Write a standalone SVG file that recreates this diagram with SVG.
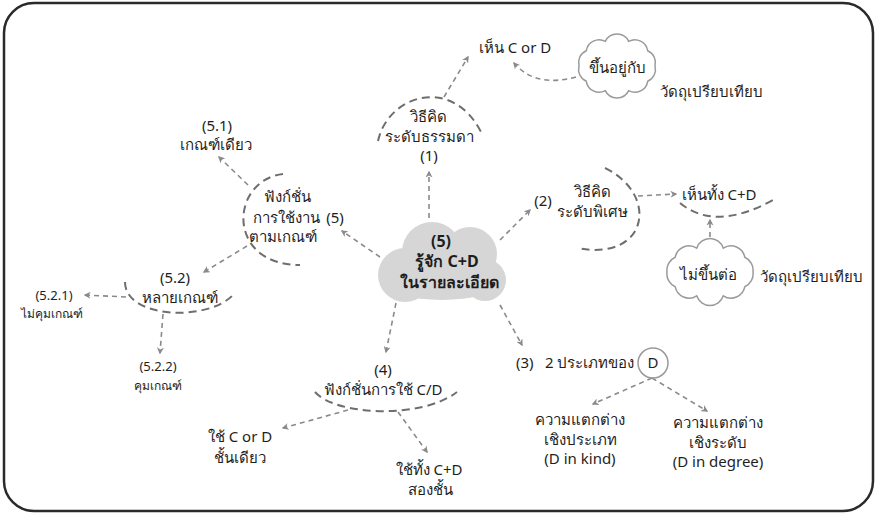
<svg xmlns="http://www.w3.org/2000/svg" width="878" height="515" viewBox="0 0 878 515">
  <defs>
    <marker id="arrow" viewBox="0 0 10 10" refX="8" refY="5" markerWidth="7" markerHeight="7" orient="auto" markerUnits="userSpaceOnUse">
      <path d="M0,0 L10,5 L0,10 L3,5 Z" fill="#8a8a8a"/>
    </marker>
    <style>
      text { font-family: "Noto Sans", "DejaVu Sans", Tahoma, sans-serif; fill: #1e1e1e; text-anchor: middle; font-size: 15px; }
      .sm { font-size: 13px; }
      .xs { font-size: 12px; }
      .bold { font-weight: bold; font-size: 16px; }
      .lft { text-anchor: start; }
      .link { fill: none; stroke: #8a8a8a; stroke-width: 1.6; stroke-dasharray: 5 4; marker-end: url(#arrow); }
      .arc { fill: none; stroke: #6e6e6e; stroke-width: 2; stroke-dasharray: 8 5; }
      .cloud { fill: #ffffff; stroke: #9a9a9a; stroke-width: 1.5; }
    </style>
  </defs>

  <!-- frame -->
  <rect x="4" y="3" width="869" height="508" rx="30" ry="30" fill="#ffffff" stroke="#2a2a2a" stroke-width="2.5"/>

  <!-- connectors -->
  <g id="connectors">
    <path class="link" d="M429,218 L429,172"/>
    <path class="link" d="M500,240 L530,210"/>
    <path class="link" d="M380,257 L342,231"/>
    <path class="link" d="M396,303 L386,352"/>
    <path class="link" d="M500,305 L522,345"/>
    <path class="link" d="M444,97 L468,57"/>
    <path class="link" d="M576,77 Q535,88 514,63"/>
    <path class="link" d="M638,196 L676,194"/>
    <path class="link" d="M710,246 L710,220"/>
    <path class="link" d="M248,185 L219,157"/>
    <path class="link" d="M247,246 L204,272"/>
    <path class="link" d="M126,297 L85,295"/>
    <path class="link" d="M163,314 L160,353"/>
    <path class="link" d="M348,410 L283,428"/>
    <path class="link" d="M398,412 L427,452"/>
    <path class="link" d="M652,378 L593,404"/>
    <path class="link" d="M652,378 L707,411"/>
  </g>

  <!-- central topic -->
  <g id="center">
    <g fill="#d6d6d6">
      <circle cx="405" cy="275" r="27"/>
      <circle cx="432" cy="252" r="30"/>
      <circle cx="470" cy="254" r="27"/>
      <circle cx="485" cy="280" r="21"/>
      <ellipse cx="442" cy="285" rx="55" ry="15"/>
    </g>
    <text class="bold" x="441" y="247">(5)</text>
    <text class="bold" x="447" y="267">รู้จัก C+D</text>
    <text class="bold" x="449" y="288">ในรายละเอียด</text>
  </g>

  <!-- (1) ordinary thinking -->
  <g id="node1">
    <path class="arc" d="M378,141 C388,95 452,75 481,132"/>
    <text x="428" y="122">วิธีคิด</text>
    <text x="429" y="142">ระดับธรรมดา</text>
    <text x="429" y="161">(1)</text>
  </g>

  <g id="see-c-or-d">
    <text x="515" y="53">เห็น C or D</text>
  </g>

  <g id="depends">
    <path class="cloud" d="M655,66 A13,13 0 0,1 647.7,81.3 A13,13 0 0,1 628.7,90.7 A13,13 0 0,1 605.3,90.7 A13,13 0 0,1 586.3,81.3 A13,13 0 0,1 579,66 A13,13 0 0,1 586.3,50.7 A13,13 0 0,1 605.3,41.3 A13,13 0 0,1 628.7,41.3 A13,13 0 0,1 647.7,50.7 A13,13 0 0,1 655,66 Z"/>
    <text x="617" y="73">ขึ้นอยู่กับ</text>
    <text class="lft" x="660" y="97">วัดถุเปรียบเทียบ</text>
  </g>

  <!-- (2) special thinking -->
  <g id="node2">
    <path class="arc" d="M605,168 C660,195 648,262 577,248"/>
    <text x="543" y="206">(2)</text>
    <text x="592" y="197">วิธีคิด</text>
    <text x="592" y="217">ระดับพิเศษ</text>
  </g>

  <g id="see-both">
    <path class="arc" d="M680,203 Q715,232 773,200"/>
    <text x="719" y="200">เห็นทั้ง C+D</text>
  </g>

  <g id="independent">
    <path class="cloud" d="M753,272 A14,14 0 0,1 744.8,286.7 A14,14 0 0,1 723.3,295.8 A14,14 0 0,1 696.7,295.8 A14,14 0 0,1 675.2,286.7 A14,14 0 0,1 667,272 A14,14 0 0,1 675.2,257.3 A14,14 0 0,1 696.7,248.2 A14,14 0 0,1 723.3,248.2 A14,14 0 0,1 744.8,257.3 A14,14 0 0,1 753,272 Z"/>
    <text x="708" y="280">ไม่ขึ้นต่อ</text>
    <text x="811" y="282">วัดถุเปรียบเทียบ</text>
  </g>

  <!-- (5) function by criteria -->
  <g id="node5">
    <path class="arc" d="M283,174 C230,180 225,265 300,265"/>
    <text x="287" y="202">ฟังก์ชั่น</text>
    <text x="286" y="223">การใช้งาน</text>
    <text x="335" y="223">(5)</text>
    <text x="283" y="242">ตามเกณฑ์</text>
  </g>

  <g id="node5-1">
    <text x="217" y="131">(5.1)</text>
    <text x="216" y="150">เกณฑ์เดียว</text>
  </g>

  <g id="node5-2">
    <path class="arc" d="M125,282 C125,318 205,322 232,296"/>
    <text x="175" y="283">(5.2)</text>
    <text x="180" y="303">หลายเกณฑ์</text>
  </g>

  <g id="node5-2-1">
    <text class="sm" x="54" y="300">(5.2.1)</text>
    <text class="xs" x="52" y="318">ไม่คุมเกณฑ์</text>
  </g>

  <g id="node5-2-2">
    <text class="sm" x="158" y="371">(5.2.2)</text>
    <text class="xs" x="158" y="390">คุมเกณฑ์</text>
  </g>

  <!-- (4) function of use -->
  <g id="node4">
    <path class="arc" d="M315,392 C335,415 420,420 457,392"/>
    <text x="383" y="375">(4)</text>
    <text x="383" y="395">ฟังก์ชั่นการใช้ C/D</text>
  </g>

  <g id="one-layer">
    <text x="240" y="442">ใช้ C or D</text>
    <text x="240" y="463">ชั้นเดียว</text>
  </g>

  <g id="two-layer">
    <text x="429" y="475">ใช้ทั้ง C+D</text>
    <text x="430" y="495">สองชั้น</text>
  </g>

  <!-- (3) two kinds of D -->
  <g id="node3">
    <text class="lft" x="516" y="368">(3)</text>
    <text class="lft" x="545" y="368">2 ประเภทของ</text>
    <circle cx="653" cy="363" r="15" fill="none" stroke="#9a9a9a" stroke-width="1.5"/>
    <text x="653" y="368">D</text>
  </g>

  <g id="d-in-kind">
    <text x="580" y="425">ความแตกต่าง</text>
    <text x="580" y="445">เชิงประเภท</text>
    <text x="580" y="464">(D in kind)</text>
  </g>

  <g id="d-in-degree">
    <text x="718" y="428">ความแตกต่าง</text>
    <text x="718" y="448">เชิงระดับ</text>
    <text x="718" y="467">(D in degree)</text>
  </g>
</svg>
